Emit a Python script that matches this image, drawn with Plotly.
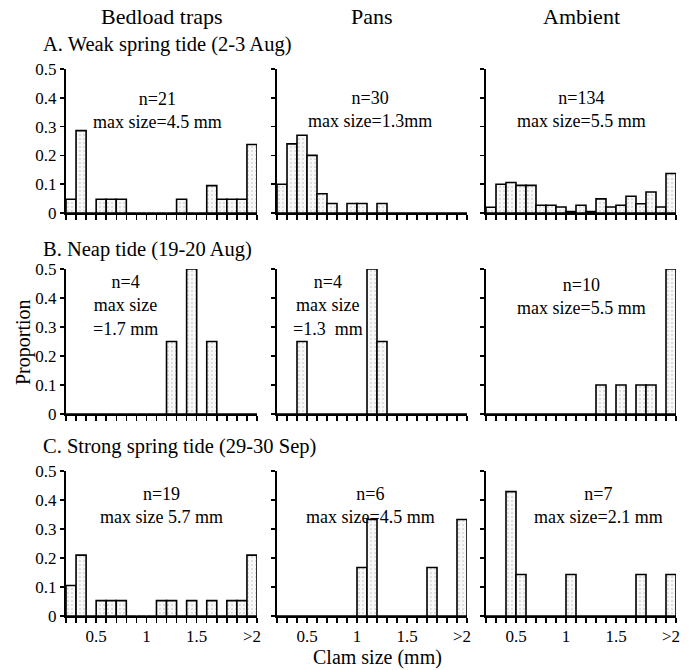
import plotly.graph_objects as go

# ---------------- data ----------------
bin_centers = [0.25, 0.35, 0.45, 0.55, 0.65, 0.75, 0.85, 0.95, 1.05, 1.15,
               1.25, 1.35, 1.45, 1.55, 1.65, 1.75, 1.85, 1.95, 2.05]
bin_edges = [0.2, 0.3, 0.4, 0.5, 0.6, 0.7, 0.8, 0.9, 1.0, 1.1, 1.2,
             1.3, 1.4, 1.5, 1.6, 1.7, 1.8, 1.9, 2.0, 2.1]
xtick_vals = [0.5, 1.0, 1.5, 2.05]
xtick_text = ["0.5", "1", "1.5", ">2"]
ytick_vals = [0, 0.1, 0.2, 0.3, 0.4, 0.5]
ytick_text = ["0", "0.1", "0.2", "0.3", "0.4", "0.5"]

column_titles = ["Bedload traps", "Pans", "Ambient"]
row_titles = ["A. Weak spring tide (2-3 Aug)", "B. Neap tide (19-20 Aug)",
              "C. Strong spring tide (29-30 Sep)"]

# proportions per size bin
a_bedload = [0.048, 0.286, 0, 0.048, 0.048, 0.048, 0, 0, 0, 0, 0, 0.048, 0,
             0, 0.095, 0.048, 0.048, 0.048, 0.238]
a_pans = [0.10, 0.24, 0.27, 0.20, 0.067, 0.033, 0, 0.033, 0.033, 0, 0.033,
          0, 0, 0, 0, 0, 0, 0, 0]
a_ambient = [0.02, 0.10, 0.106, 0.096, 0.096, 0.027, 0.027, 0.021, 0.005,
             0.027, 0.005, 0.049, 0.021, 0.027, 0.058, 0.032, 0.073, 0.021,
             0.137]
b_bedload = [0, 0, 0, 0, 0, 0, 0, 0, 0, 0, 0.25, 0, 0.5, 0, 0.25, 0, 0, 0, 0]
b_pans = [0, 0, 0.25, 0, 0, 0, 0, 0, 0, 0.5, 0.25, 0, 0, 0, 0, 0, 0, 0, 0]
b_ambient = [0, 0, 0, 0, 0, 0, 0, 0, 0, 0, 0, 0.1, 0, 0.1, 0, 0.1, 0.1, 0,
             0.5]
c_bedload = [0.105, 0.21, 0, 0.053, 0.053, 0.053, 0, 0, 0, 0.053, 0.053, 0,
             0.053, 0, 0.053, 0, 0.053, 0.053, 0.21]
c_pans = [0, 0, 0, 0, 0, 0, 0, 0, 0.167, 0.333, 0, 0, 0, 0, 0, 0.167, 0, 0,
          0.333]
c_ambient = [0, 0, 0.429, 0.143, 0, 0, 0, 0, 0.143, 0, 0, 0, 0, 0, 0, 0.143,
             0, 0, 0.143]

panels = [[a_bedload, a_pans, a_ambient],
          [b_bedload, b_pans, b_ambient],
          [c_bedload, c_pans, c_ambient]]

panel_text = [["n=21<br>max size=4.5 mm", "n=30<br>max size=1.3mm",
               "n=134<br>max size=5.5 mm"],
              ["n=4<br>max size<br>=1.7 mm", "n=4<br>max size<br>=1.3  mm",
               "n=10<br>max size=5.5 mm"],
              ["n=19<br>max size 5.7 mm", "n=6<br>max size=4.5 mm",
               "n=7<br>max size=2.1 mm"]]

# ---------------- layout geometry ----------------
W, H = 690, 670
FONT = "Liberation Serif, Times New Roman, serif"
cols_px = [(66, 257), (277, 467), (486, 676)]
rows_px = [(69, 213), (269, 414), (471, 616)]
text_pos = [[(0.48, 0.715), (0.49, 0.72), (0.50, 0.72)],
            [(0.31, 0.745), (0.27, 0.745), (0.50, 0.81)],
            [(0.50, 0.76), (0.49, 0.76), (0.59, 0.76)]]


def px_x(x):
    return x / W


def px_y(y):
    return 1 - y / H


fig = go.Figure()
annotations = []
layout = {}
for r in range(3):
    for c in range(3):
        i = r * 3 + c + 1
        sfx = "" if i == 1 else str(i)
        fig.add_trace(go.Bar(
            x=bin_centers, y=panels[r][c], width=0.1,
            xaxis="x" + sfx, yaxis="y" + sfx,
            marker=dict(color="#f3f3f3",
                        line=dict(color="black", width=1.6),
                        pattern=dict(shape=".", fgcolor="#bcbcbc",
                                     bgcolor="#f8f8f8", size=4,
                                     solidity=0.12)),
            cliponaxis=False, showlegend=False, hoverinfo="skip"))
        x0, x1 = cols_px[c]
        ytop, ybot = rows_px[r]
        layout["xaxis" + sfx] = dict(
            domain=[px_x(x0), px_x(x1)], anchor="y" + sfx,
            range=[0.2, 2.1], showgrid=False, zeroline=False,
            automargin=False,
            showline=True, linecolor="black", linewidth=2,
            tickvals=xtick_vals if r == 2 else [],
            ticktext=xtick_text if r == 2 else [],
            ticks="", ticklabelstandoff=4,
            tickfont=dict(family=FONT, size=17, color="black"),
            minor=dict(tickvals=bin_edges, ticks="outside", ticklen=5,
                       tickwidth=1.5, tickcolor="black", showgrid=False))
        layout["yaxis" + sfx] = dict(
            domain=[px_y(ybot), px_y(ytop)], anchor="x" + sfx,
            range=[0, 0.5], showgrid=False, zeroline=False,
            automargin=False,
            showline=True, linecolor="black", linewidth=2,
            tickvals=ytick_vals, ticktext=ytick_text,
            showticklabels=(c == 0), ticks="outside", ticklen=4,
            tickwidth=1.5, tickcolor="black",
            tickfont=dict(family=FONT, size=17, color="black"))
        tx, ty = text_pos[r][c]
        annotations.append(dict(
            text=panel_text[r][c], xref="x" + sfx + " domain",
            yref="y" + sfx + " domain", x=tx, y=ty, showarrow=False,
            xanchor="center", yanchor="middle",
            align="center", font=dict(family=FONT, size=18, color="black")))

# column titles
for c in range(3):
    x0, x1 = cols_px[c]
    annotations.append(dict(
        text=column_titles[c], xref="paper", yref="paper",
        x=px_x((x0 + x1) / 2), y=px_y(17), showarrow=False,
        xanchor="center", yanchor="middle",
        font=dict(family=FONT, size=22, color="black")))
# row titles
for r, yy in enumerate([45, 249, 447]):
    annotations.append(dict(
        text=row_titles[r], xref="paper", yref="paper", x=px_x(41),
        y=px_y(yy), xanchor="left", yanchor="middle", showarrow=False,
        font=dict(family=FONT, size=20.5, color="black")))
# axis titles
annotations.append(dict(
    text="Proportion", xref="paper", yref="paper", x=px_x(23),
    y=px_y(342), textangle=-90, showarrow=False,
    xanchor="center", yanchor="middle",
    font=dict(family=FONT, size=20, color="black")))
annotations.append(dict(
    text="Clam size (mm)", xref="paper", yref="paper", x=px_x(378),
    y=px_y(657), showarrow=False, xanchor="center", yanchor="middle",
    font=dict(family=FONT, size=20, color="black")))

fig.update_layout(
    template="none",
    width=W, height=H, margin=dict(l=0, r=0, t=0, b=0, autoexpand=False),
    paper_bgcolor="white", plot_bgcolor="white", bargap=0,
    font=dict(family=FONT, color="black"),
    annotations=annotations, **layout)

# remove the default page margin so the figure fills the window exactly
fig.write_html("out.html",
               config={"displayModeBar": False, "staticPlot": True},
               post_script="document.body.style.margin='0';"
                           "document.body.style.overflow='hidden';")
